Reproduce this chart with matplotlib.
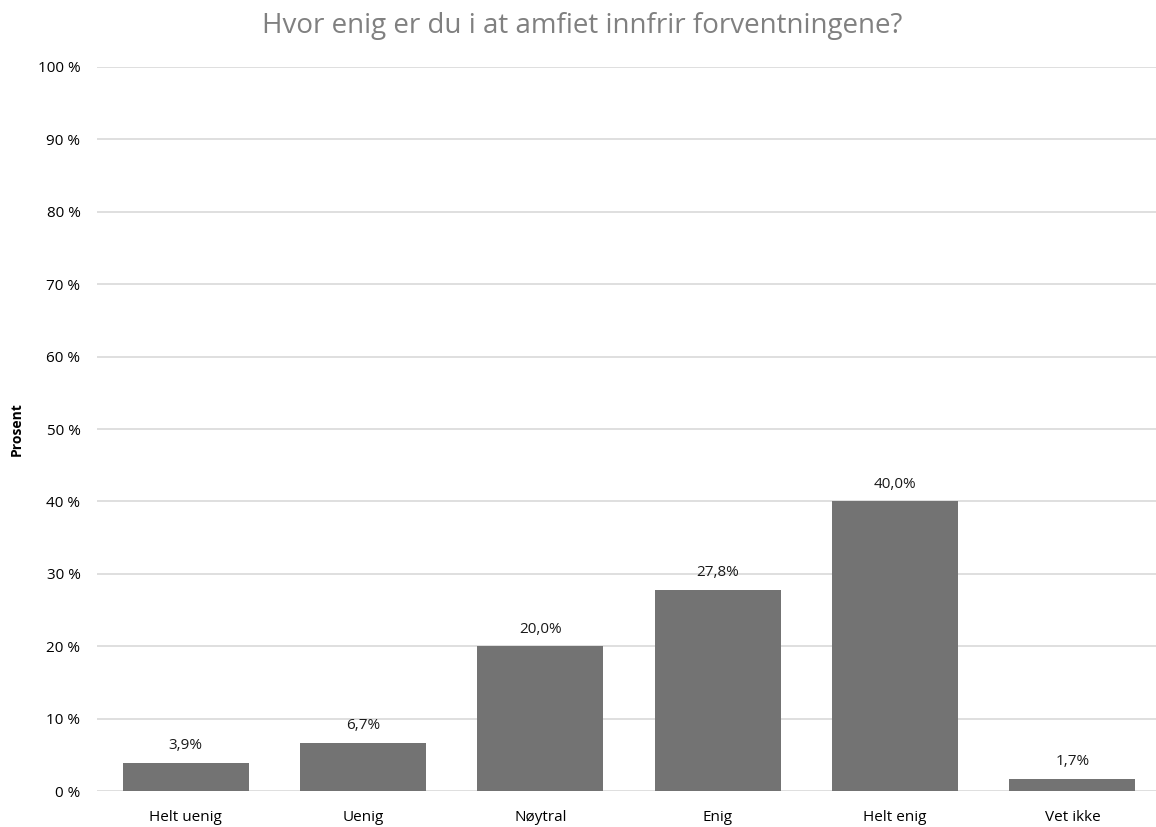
import matplotlib
matplotlib.use("Agg")
import matplotlib.pyplot as plt

# Kategorier og verdier (prosent)
kategorier = ["Helt uenig", "Uenig", "Nøytral", "Enig", "Helt enig", "Vet ikke"]
verdier = [3.9, 6.7, 20.0, 27.8, 40.0, 1.7]
y_ticks = [0, 10, 20, 30, 40, 50, 60, 70, 80, 90, 100]

plt.rcParams['font.family'] = ['Open Sans', 'DejaVu Sans']

fig = plt.figure(figsize=(11.56, 8.27), dpi=100)
ax = fig.add_axes([0.084, 0.0435, 0.9204, 0.8755])

x = range(len(kategorier))
ax.bar(x, verdier, width=0.71, color='#737373', zorder=3)

# Dataetiketter
for xi, v in zip(x, verdier):
    ax.text(xi, v + 1.3, f"{v:.1f}".replace('.', ',') + "%", ha='center', va='bottom',
            fontsize=11, color='#1a1a1a')

ax.set_xlim(-0.5, len(kategorier) - 0.5)
ax.set_ylim(0, 100)
ax.set_yticks(y_ticks)
ax.set_yticklabels([f"{t} %" for t in y_ticks], fontsize=11)
ax.set_xticks(list(x))
ax.set_xticklabels(kategorier, fontsize=11)
ax.tick_params(axis='x', length=0, pad=14)
ax.tick_params(axis='y', length=0, pad=12)

ax.grid(axis='y', color='#d9d9d9', lw=1.2, zorder=0)
for s in ax.spines.values():
    s.set_visible(False)

ax.set_ylabel("Prosent", fontsize=10, fontweight='bold', labelpad=10)
fig.suptitle("Hvor enig er du i at amfiet innfrir forventningene?", fontsize=20,
             color='#808080', y=0.986, x=0.504)

fig.savefig("out.png", dpi=100)
